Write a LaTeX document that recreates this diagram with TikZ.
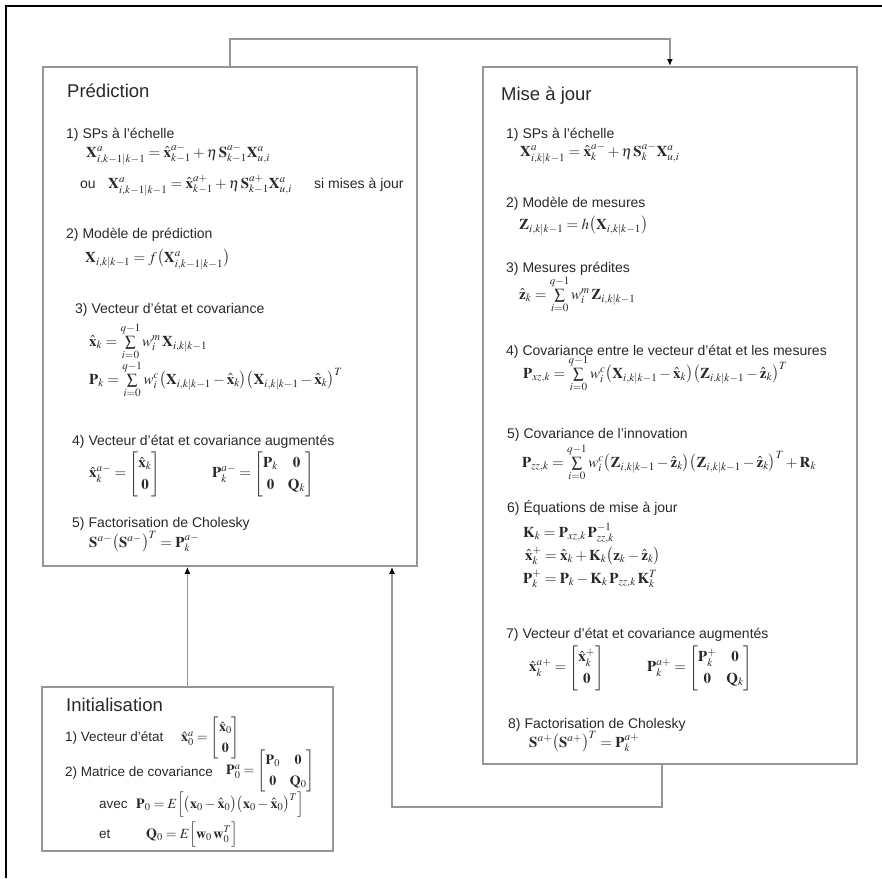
\documentclass[tikz,border=0pt]{standalone}
\usepackage{amsmath}
\usepackage{mathptmx}
\usepackage[no-math]{fontspec}
\setmainfont{Liberation Sans}
\usetikzlibrary{arrows.meta}
\definecolor{boxgray}{RGB}{150,150,150}
\definecolor{inkgray}{RGB}{40,40,40}
\renewcommand{\arraystretch}{1.3}
\begin{document}
\begin{tikzpicture}[x=1pt,y=-1pt,
    panel/.style={draw=boxgray, line width=1.8pt, anchor=north west, inner sep=0},
    ttl/.style={anchor=base west, inner sep=0, text=inkgray, font=\fontsize{18.5}{20}\selectfont},
    txt/.style={anchor=base west, inner sep=0, text=inkgray, font=\fontsize{14}{16}\selectfont},
    itxt/.style={txt, font=\fontsize{13.5}{16}\selectfont},
    eqn/.style={anchor=base west, inner sep=0, text=inkgray, font=\fontsize{15}{17}\selectfont},
    eqc/.style={eqn, anchor=west},
    ieqn/.style={eqn, font=\fontsize{14}{16}\selectfont},
    ieqc/.style={ieqn, anchor=west},
    link/.style={draw=boxgray, line width=1.8pt},
    flow/.style={link, -{Latex[length=7pt,width=6pt,color=black]}}]
  \useasboundingbox (0,0) rectangle (882,878);

  % page frame
  \draw[black, line width=1.2pt] (6,878) -- (6,6) -- (882,6);

  % boxes
  \node[panel, minimum width=374pt, minimum height=499pt] (pred) at (42,66) {};
  \node[panel, minimum width=374pt, minimum height=697pt] (maj) at (482,66) {};
  \node[panel, minimum width=291pt, minimum height=164pt] (init) at (41,686) {};

  % Prediction
  \node[ttl] (predT) at (67,97) {Prédiction};
  \node[txt] (p1) at (66,138) {1) SPs à l'échelle};
  \node[eqn] (p1a) at (86,157) {$\mathbf{X}^{a}_{i,k-1|k-1}=\hat{\mathbf{x}}^{a-}_{k-1}+\eta\,\mathbf{S}^{a-}_{k-1}\mathbf{X}^{a}_{u,i}$};
  \node[txt] (p1ou) at (80,188) {ou};
  \node[eqn] (p1b) at (108,188) {$\mathbf{X}^{a}_{i,k-1|k-1}=\hat{\mathbf{x}}^{a+}_{k-1}+\eta\,\mathbf{S}^{a+}_{k-1}\mathbf{X}^{a}_{u,i}$};
  \node[txt] (p1si) at (314,188) {si mises à jour};
  \node[txt] (p2) at (66,238) {2) Modèle de prédiction};
  \node[eqn] (p2a) at (85,262) {$\mathbf{X}_{i,k|k-1}=f\big(\mathbf{X}^{a}_{i,k-1|k-1}\big)$};
  \node[txt] (p3) at (75,313) {3) Vecteur d'état et covariance};
  \node[eqn] (p3a) at (89,346) {$\hat{\mathbf{x}}_k=\sum\limits_{i=0}^{q-1} w_i^{m}\,\mathbf{X}_{i,k|k-1}$};
  \node[eqn] (p3b) at (89,384) {$\mathbf{P}_k=\sum\limits_{i=0}^{q-1} w_i^{c}\big(\mathbf{X}_{i,k|k-1}-\hat{\mathbf{x}}_k\big)\big(\mathbf{X}_{i,k|k-1}-\hat{\mathbf{x}}_k\big)^{T}$};
  \node[txt] (p4) at (72,445) {4) Vecteur d'état et covariance augmentés};
  \node[eqc] (p4a) at (89,474) {$\hat{\mathbf{x}}^{a-}_k=\begin{bmatrix}\hat{\mathbf{x}}_k\\ \mathbf{0}\end{bmatrix}$};
  \node[eqc] (p4b) at (212,474) {$\mathbf{P}^{a-}_k=\begin{bmatrix}\mathbf{P}_k & \mathbf{0}\\ \mathbf{0} & \mathbf{Q}_k\end{bmatrix}$};
  \node[txt] (p5) at (72,527) {5) Factorisation de Cholesky};
  \node[eqn] (p5a) at (89,547) {$\mathbf{S}^{a-}\big(\mathbf{S}^{a-}\big)^{T}=\mathbf{P}^{a-}_k$};

  % Mise a jour
  \node[ttl] (majT) at (501,100) {Mise à jour};
  \node[txt] (m1) at (506,138) {1) SPs à l'échelle};
  \node[eqn] (m1a) at (520,156) {$\mathbf{X}^{a}_{i,k|k-1}=\hat{\mathbf{x}}^{a-}_k+\eta\,\mathbf{S}^{a-}_k\mathbf{X}^{a}_{u,i}$};
  \node[txt] (m2) at (506,207) {2) Modèle de mesures};
  \node[eqn] (m2a) at (519,229) {$\mathbf{Z}_{i,k|k-1}=h\big(\mathbf{X}_{i,k|k-1}\big)$};
  \node[txt] (m3) at (506,272) {3) Mesures prédites};
  \node[eqn] (m3a) at (519,299) {$\hat{\mathbf{z}}_k=\sum\limits_{i=0}^{q-1} w_i^{m}\,\mathbf{Z}_{i,k|k-1}$};
  \node[txt] (m4) at (506,355) {4) Covariance entre le vecteur d'état et les mesures};
  \node[eqn] (m4a) at (523,378) {$\mathbf{P}_{xz,k}=\sum\limits_{i=0}^{q-1} w_i^{c}\big(\mathbf{X}_{i,k|k-1}-\hat{\mathbf{x}}_k\big)\big(\mathbf{Z}_{i,k|k-1}-\hat{\mathbf{z}}_k\big)^{T}$};
  \node[txt] (m5) at (507,438) {5) Covariance de l'innovation};
  \node[eqn] (m5a) at (522,467) {$\mathbf{P}_{zz,k}=\sum\limits_{i=0}^{q-1} w_i^{c}\big(\mathbf{Z}_{i,k|k-1}-\hat{\mathbf{z}}_k\big)\big(\mathbf{Z}_{i,k|k-1}-\hat{\mathbf{z}}_k\big)^{T}+\mathbf{R}_k$};
  \node[txt] (m6) at (507,512) {6) Équations de mise à jour};
  \node[eqn] (m6a) at (523,537) {$\mathbf{K}_k=\mathbf{P}_{xz,k}\,\mathbf{P}^{-1}_{zz,k}$};
  \node[eqn] (m6b) at (525,560) {$\hat{\mathbf{x}}^{+}_k=\hat{\mathbf{x}}_k+\mathbf{K}_k\big(\mathbf{z}_k-\hat{\mathbf{z}}_k\big)$};
  \node[eqn] (m6c) at (523,583) {$\mathbf{P}^{+}_k=\mathbf{P}_k-\mathbf{K}_k\,\mathbf{P}_{zz,k}\,\mathbf{K}^{T}_k$};
  \node[txt] (m7) at (506,638) {7) Vecteur d'état et covariance augmentés};
  \node[eqc] (m7a) at (529,668) {$\hat{\mathbf{x}}^{a+}_k=\begin{bmatrix}\hat{\mathbf{x}}^{+}_k\\ \mathbf{0}\end{bmatrix}$};
  \node[eqc] (m7b) at (647,668) {$\mathbf{P}^{a+}_k=\begin{bmatrix}\mathbf{P}^{+}_k & \mathbf{0}\\ \mathbf{0} & \mathbf{Q}_k\end{bmatrix}$};
  \node[txt] (m8) at (508,728) {8) Factorisation de Cholesky};
  \node[eqn] (m8a) at (529,747) {$\mathbf{S}^{a+}\big(\mathbf{S}^{a+}\big)^{T}=\mathbf{P}^{a+}_k$};

  % Initialisation
  \node[ttl] (initT) at (66,711) {Initialisation};
  \node[itxt] (i1) at (65,741) {1) Vecteur d'état};
  \node[ieqc] (i1a) at (181,738) {$\hat{\mathbf{x}}^{a}_0=\begin{bmatrix}\hat{\mathbf{x}}_0\\ \mathbf{0}\end{bmatrix}$};
  \node[itxt] (i2) at (65,776) {2) Matrice de covariance};
  \node[ieqc] (i2a) at (226,771) {$\mathbf{P}^{a}_0=\begin{bmatrix}\mathbf{P}_0 & \mathbf{0}\\ \mathbf{0} & \mathbf{Q}_0\end{bmatrix}$};
  \node[itxt] (i2b) at (99,808) {avec};
  \node[ieqn] (i2c) at (136,808) {$\mathbf{P}_0=E\Big[\big(\mathbf{x}_0-\hat{\mathbf{x}}_0\big)\big(\mathbf{x}_0-\hat{\mathbf{x}}_0\big)^{T}\Big]$};
  \node[itxt] (i2d) at (99,838) {et};
  \node[ieqn] (i2e) at (146,838) {$\mathbf{Q}_0=E\Big[\mathbf{w}_0\,\mathbf{w}_0^{T}\Big]$};

  % connectors
  \coordinate (topY) at (0,39);
  \coordinate (loopR) at (662,807);
  \coordinate (loopL) at (392,807);
  \draw[flow] (pred.north) -- (pred.north |- topY) -| (maj.north);
  \draw[flow] (init.north) -- (init.north |- pred.south);
  \draw[flow] (maj.south -| loopR) -- (loopR) -- (loopL) -- (loopL |- pred.south);
\end{tikzpicture}
\end{document}
